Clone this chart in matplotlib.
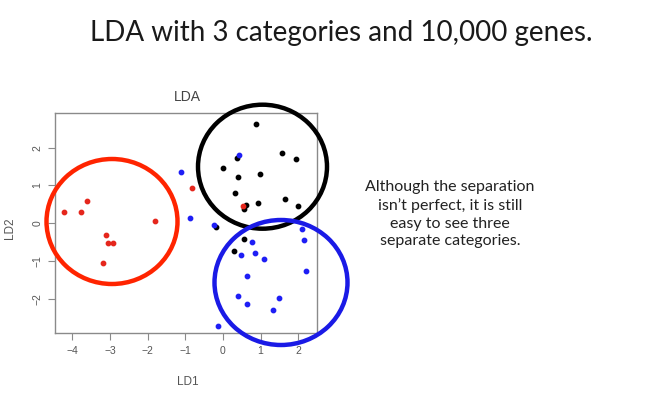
import matplotlib
matplotlib.use("Agg")
import matplotlib.pyplot as plt
from matplotlib.patches import Ellipse

# LDA scores
red_x = [-4.21, -3.78, -3.61, -3.10, -3.05, -2.93, -3.19, -1.81, -0.81, 0.52]
red_y = [0.30, 0.29, 0.59, -0.30, -0.51, -0.52, -1.06, 0.05, 0.94, 0.46]

blue_x = [-1.12, -0.88, -0.23, 0.43, 0.77, 0.48, 0.86, 1.10, 0.65, 0.41,
          0.65, 1.32, 1.48, 2.09, 2.16, 2.21, -0.13]
blue_y = [1.36, 0.15, -0.05, 1.81, -0.50, -0.85, -0.78, -0.94, -1.39, -1.92,
          -2.13, -2.29, -1.98, -0.15, -0.43, -1.26, -2.72]

black_x = [0.89, 0.38, 0.01, 0.39, 0.98, 1.57, 1.93, 0.33, 0.62, 0.57,
           0.92, 1.65, 2.00, -0.19, 0.55, 0.29]
black_y = [2.64, 1.73, 1.45, 1.22, 1.30, 1.86, 1.70, 0.81, 0.49, 0.37,
           0.55, 0.63, 0.47, -0.10, -0.41, -0.74]

xticks = [-4, -3, -2, -1, 0, 1, 2]
yticks = [-2, -1, 0, 1, 2]

W, H = 662, 395
fig = plt.figure(figsize=(W / 100, H / 100), dpi=100)
fig.patch.set_facecolor("white")

ax = fig.add_axes([55 / W, 1 - 333.3 / H, (316.7 - 55) / W, (333.3 - 113.3) / H])
ax.scatter(black_x, black_y, s=10, c="black", zorder=3)
ax.scatter(blue_x, blue_y, s=10, c="#1e1ef5", zorder=3)
ax.scatter(red_x, red_y, s=10, c="#e5261c", zorder=4)
ax.set_xlim(-4.46, 2.49)
ax.set_ylim(-2.91, 2.91)
ax.set_xticks(xticks)
ax.set_yticks(yticks)
ax.set_xticklabels([str(t).replace("-", "\u2212") for t in xticks])
ax.set_yticklabels([str(t).replace("-", "\u2212") for t in yticks], rotation=90, va="center")
for s in ax.spines.values():
    s.set_color("#8a8a8a")
    s.set_linewidth(1.0)
ax.tick_params(direction="out", length=5, width=0.8, color="#8a8a8a",
               labelcolor="#555555", labelsize=7.5, pad=4)
for lab in ax.get_xticklabels() + ax.get_yticklabels():
    lab.set_family("Liberation Sans")

fig.text(187 / W, 1 - 97 / H, "LDA", ha="center", va="center", fontsize=10,
         color="#444444", family="Liberation Sans")
fig.text(188 / W, 1 - 382 / H, "LD1", ha="center", va="center", fontsize=8.5,
         color="#555555", family="Liberation Sans")
fig.text(10 / W, 1 - 228 / H, "LD2", ha="center", va="center", fontsize=8.5,
         color="#555555", rotation=90, family="Liberation Sans")

# hand-drawn highlight circles on the slide
circles = [((112, 221.5), 65.5, 62.5, "#ff2400"),
           ((262.5, 166.7), 64.5, 62.0, "black"),
           ((281, 282.5), 66.5, 62.5, "#1a1ae6")]
for (cx, cy), rx, ry, col in circles:
    e = Ellipse((cx / W, 1 - cy / H), 2 * rx / W, 2 * ry / H,
                transform=fig.transFigure, fill=False, edgecolor=col,
                linewidth=3.2, clip_on=False, zorder=5)
    fig.add_artist(e)

fig.text(341 / W, 1 - 33 / H, "LDA with 3 categories and 10,000 genes.",
         ha="center", va="center", fontsize=20, color="#1a1a1a", family="Lato")

fig.text(450 / W, 1 - 214 / H,
         "Although the separation\nisn\u2019t perfect, it is still\neasy to see three\nseparate categories.",
         ha="center", va="center", fontsize=11.5, color="#222222", family="Lato",
         linespacing=1.35)

fig.savefig("out.png", dpi=100)
